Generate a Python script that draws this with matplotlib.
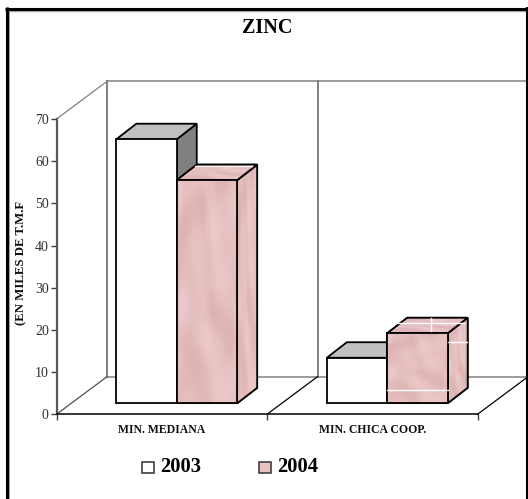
import numpy as np
import matplotlib
matplotlib.use("Agg")
import matplotlib.pyplot as plt
from matplotlib.colors import LinearSegmentedColormap
from matplotlib.patches import Polygon, Rectangle
from matplotlib.lines import Line2D

categories = ["MIN. MEDIANA", "MIN. CHICA COOP."]
series_names = ["2003", "2004"]
values_2003 = [62.6, 10.8]
values_2004 = [52.9, 16.6]
yticks = [0, 10, 20, 30, 40, 50, 60, 70]
title = "ZINC"
ylabel = "(EN MILES DE T.M.F"

W, H = 528, 499
plt.rcParams["font.family"] = ["Liberation Serif", "DejaVu Serif"]
fig = plt.figure(figsize=(W / 100, H / 100), dpi=100, facecolor="white")

L, R, B, T = 56.5, 477.5, 414.3, 119.0
ax = fig.add_axes([L / W, 1 - B / H, (R - L) / W, (B - T) / H])
ax.set_xlim(0, 2)
ax.set_ylim(0, 70)
ax.patch.set_visible(False)
for s in ax.spines.values():
    s.set_visible(False)

pxx = 2 / (R - L)
pxy = 70 / (B - T)
FULL = (50.5 * pxx, 37.6 * pxy)      # depth of the floor
F = (15.0 * pxx, 11.0 * pxy)         # front of the bars
K = (35.0 * pxx, 26.5 * pxy)         # back of the bars
BAR_W = 60.4 * pxx
ymax = yticks[-1]
GRID, EDGE = "#808080", "black"
marble = LinearSegmentedColormap.from_list("marble", ["#DCB1B1", "#E6BFBF", "#EDCACA"])

# soft mottled surface for the 2004 faces (a fill style, not data)
def mottle(n=120):
    u, v = np.meshgrid(np.linspace(0, 1, n), np.linspace(0, 1, n))
    return (np.sin(7 * u + 4 * np.sin(5 * v)) + np.sin(9 * v + 3 * np.sin(6 * u) + 1.3)
            + 0.5 * np.sin(13 * u + 11 * v + 0.7) * np.sin(15 * v - 8 * u))

def poly(pts, fc="none", ec=EDGE, lw=1.0, z=3, tex=False):
    p = Polygon(pts, closed=True, fc=fc, ec=ec, lw=lw, zorder=z, clip_on=False,
                joinstyle="miter")
    ax.add_patch(p)
    if tex:
        xs, ys = zip(*pts)
        im = ax.imshow(mottle(), cmap=marble, extent=(min(xs), max(xs), min(ys), max(ys)),
                       aspect="auto", zorder=z + 0.01, interpolation="bilinear",
                       vmin=-2.5, vmax=2.5)
        im.set_clip_path(Polygon(pts, closed=True, transform=ax.transData))
        ax.add_patch(Polygon(pts, closed=True, fc="none", ec=ec, lw=lw, zorder=z + 0.02,
                             clip_on=False, joinstyle="miter"))

# back walls, floor, divider
fx, fy = FULL
ax.plot([fx, 2 + fx], [ymax + fy] * 2, color=GRID, lw=1.1, clip_on=False, zorder=1)
ax.plot([fx, 2 + fx], [fy, fy], color=GRID, lw=1.1, clip_on=False, zorder=1)
for xv in (0, 1):
    ax.plot([xv + fx, xv + fx], [fy, ymax + fy], color=GRID, lw=1.4, clip_on=False, zorder=1)
ax.plot([0, fx], [ymax, ymax + fy], color=GRID, lw=0.9, clip_on=False, zorder=1)
for xv, c in ((0, "#505050"), (1, "black"), (2, "black")):
    ax.plot([xv, xv + fx], [0, fy], color=c, lw=0.9, clip_on=False, zorder=1)

def bar3d(xc, v, front, top, side, z, tex=False):
    x0, x1 = xc + F[0], xc + F[0] + BAR_W
    y0, y1 = F[1], v + F[1]
    dx, dy = K[0] - F[0], K[1] - F[1]
    poly([(x1, y0), (x1 + dx, y0 + dy), (x1 + dx, y1 + dy), (x1, y1)], fc=side, lw=1.3, z=z, tex=tex)
    poly([(x0, y1), (x0 + dx, y1 + dy), (x1 + dx, y1 + dy), (x1, y1)], fc=top, lw=1.3, z=z + 0.1, tex=tex)
    poly([(x0, y0), (x1, y0), (x1, y1), (x0, y1)], fc=front, lw=1.3, z=z + 0.2, tex=tex)
    return x0, x1, y0, y1, dx, dy

for i, (a, b) in enumerate(zip(values_2003, values_2004)):
    xc = i + 0.5
    bar3d(xc - BAR_W, a, "white", "#C0C0C0", "#808080", 3)
    x0, x1, y0, y1, dx, dy = bar3d(xc, b, "#E9C1C1", "#E6BCBC", "#E3B9B9", 4, tex=True)
    # bright seams in the fill
    if i == 1:
        h = y1 - y0
        seams = [((x0, x1), (y0 + 0.19 * h,) * 2),
                 ((x1 + 0.03 * dx, x1 + 0.95 * dx), (y0 + 0.76 * h + 0.5 * dy,) * 2),
                 ((x0 + 0.55 * dx, x1 + 0.8 * dx), (y1 + 0.65 * dy,) * 2),
                 ((x0 + 0.72 * BAR_W,) * 2, (y1 + 0.15 * dy, y1 + 0.97 * dy))]
        for sx, sy in seams:
            ax.plot(sx, sy, color="white", lw=1.0, zorder=4.4, clip_on=False)
    else:
        ax.plot((x0 + 0.9 * dx, x1 + 0.75 * dx), (y1 + 0.88 * dy,) * 2, color="#FBEFEF",
                lw=1.0, zorder=4.4, clip_on=False)

ax.set_xlim(0, 2)
ax.set_ylim(0, 70)

# spines
ax.plot([0, 0], [0, ymax], color="#585858", lw=1.6, clip_on=False, zorder=5)
ax.plot([0, 2], [0, 0], color="black", lw=1.1, clip_on=False, zorder=5)
ax.set_xticks([0, 1, 2])
ax.set_xticklabels([])
ax.set_yticks(yticks)
ax.tick_params(axis="y", length=4, width=1, color="#404040", labelsize=10,
               labelcolor="#303030", pad=1.5)
ax.tick_params(axis="x", length=4, width=1, color="#404040")
for i, c in enumerate(categories):
    ax.annotate(c, (i + 0.5, 0), xytext=(0, -11.6), textcoords="offset points",
                ha="center", va="center", fontsize=8.5, fontweight="bold", color="#101010")

# title and y label
fig.text(267 / W, 1 - 28 / H, title, ha="center", va="center", fontsize=14.5,
         fontweight="bold", color="black")
fig.text(21 / W, 1 - 325 / H, ylabel, rotation=90, ha="center", va="bottom",
         fontsize=9.2, fontweight="bold", color="#101010")

# legend
for xs, name, fc in ((142, series_names[0], "white"), (258.5, series_names[1], "#E9C1C1")):
    fig.patches.append(Rectangle((xs / W, 1 - 473 / H), 12 / W, 11.5 / H, transform=fig.transFigure,
                                 fc=fc, ec="#404040", lw=1.2))
    fig.text((xs + 18.3) / W, 1 - 467.5 / H, name, ha="left", va="center", fontsize=14.8,
             fontweight="bold", color="black")

# outer frame
fr = fig.transFigure
def frame(x0, y0, x1, y1, c, lw):
    fig.add_artist(Line2D([x0 / W, x1 / W], [1 - y0 / H, 1 - y1 / H], color=c, lw=lw,
                          transform=fr, solid_capstyle="butt"))
frame(8, 10.5, 526, 10.5, "#A8A8A8", 1.0)
frame(8.5, 10, 8.5, 499, "#A8A8A8", 0.8)
frame(5, 8.5, 528, 8.5, "black", 2.2)
frame(6.5, 7, 6.5, 499, "black", 2.2)
frame(527, 7, 527, 499, "black", 1.5)

fig.savefig("out.png", dpi=100)
